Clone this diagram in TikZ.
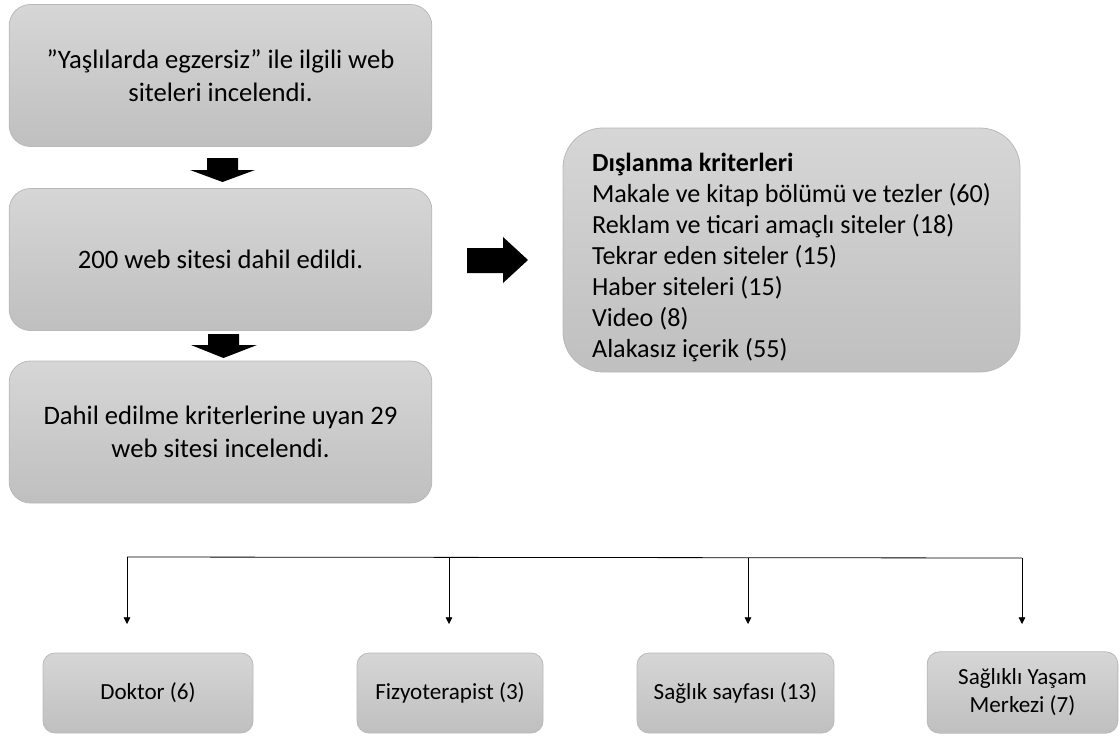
\documentclass[tikz,border=0pt]{standalone}
\usepackage{fontspec}
\setmainfont{Carlito}
\usetikzlibrary{arrows.meta}
\tikzset{
    kutu/.style={draw=gray!55, line width=0.6pt, top color=gray!32, bottom color=gray!50,
        align=center, inner sep=0pt},
    buyuk/.style={font=\fontsize{20}{24.5}\selectfont},
    liste/.style={font=\fontsize{19.6}{23.25}\selectfont},
    kucuk/.style={font=\fontsize{17.3}{21}\selectfont},
    ok/.style={-{Triangle[length=5pt,width=5pt]}, line width=0.6pt},
}
\begin{document}
\begin{tikzpicture}[x=0.75pt,y=-0.75pt]
    \useasboundingbox (0,0) rectangle (1120,735);
    %% flow on the left
    \node[kutu,buyuk,rounded corners=16pt,minimum width=317pt,minimum height=106.5pt] (tarama) at (220.5,75.5)
        {''Yaşlılarda egzersiz'' ile ilgili web\\ siteleri incelendi.};
    \node[kutu,buyuk,rounded corners=16pt,minimum width=317pt,minimum height=106.5pt] (dahil) at (220.5,259.5)
        {200 web sitesi dahil edildi.};
    \node[kutu,buyuk,rounded corners=16pt,minimum width=317pt,minimum height=106.5pt] (uyan) at (220.5,432)
        {Dahil edilme kriterlerine uyan 29\\ web sitesi incelendi.};
    %% block arrows
    \fill (207,158) -- (238,158) -- (238,170) -- (255,170) -- (222.5,182) -- (190,170) -- (207,170) -- cycle;
    \fill (208,334) -- (239,334) -- (239,345) -- (257,345) -- (223.5,358) -- (191,345) -- (208,345) -- cycle;
    \fill (467,248) -- (503,248) -- (503,237) -- (528,260) -- (503,283) -- (503,273) -- (467,273) -- cycle;
    %% exclusion box
    \node[kutu,liste,rounded corners=30pt,minimum width=342.75pt,minimum height=183pt,align=left] (dislanma) at (791.5,250)
        {\rule{0pt}{25pt}\textbf{Dışlanma kriterleri}\\
         Makale ve kitap bölümü ve tezler (60)\\
         Reklam ve ticari amaçlı siteler (18)\\
         Tekrar eden siteler (15)\\
         Haber siteleri (15)\\
         Video (8)\\
         Alakasız içerik (55)\hspace{7pt}};
    %% site types
    \node[kutu,kucuk,rounded corners=9pt,minimum width=157.5pt,minimum height=60pt] (doktor) at (148,693) {Doktor (6)};
    \node[kutu,kucuk,rounded corners=9pt,minimum width=139.5pt,minimum height=60pt] (fizyo) at (450,693) {Fizyoterapist (3)};
    \node[kutu,kucuk,rounded corners=9pt,minimum width=147.75pt,minimum height=60pt] (saglik) at (735.5,693) {Sağlık sayfası (13)};
    \node[kutu,kucuk,rounded corners=9pt,minimum width=143pt,minimum height=61pt] (merkez) at (1022.5,692.5) {Sağlıklı Yaşam\\ Merkezi (7)};
    %% branching lines
    \coordinate (solkose) at (127,557);
    \coordinate (sagkose) at (1022,558);
    \coordinate (fizyodal) at (449,557);
    \coordinate (saglikdal) at (748,558);
    \draw[line width=0.6pt] (solkose) -- (sagkose);
    \draw[ok] (solkose) -- (127,624);
    \draw[ok] (fizyodal) -- (449,624);
    \draw[ok] (saglikdal) -- (748,624);
    \draw[ok] (sagkose) -- (1022,624);
\end{tikzpicture}
\end{document}
